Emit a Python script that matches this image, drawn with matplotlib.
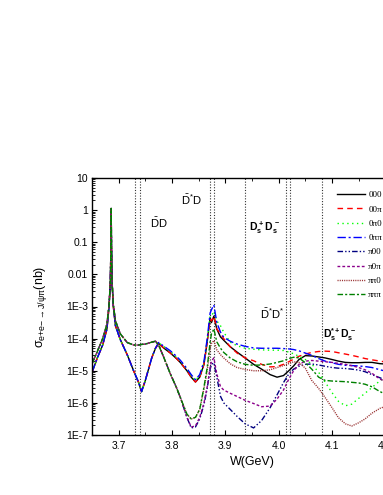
import numpy as np
import matplotlib
matplotlib.use("Agg")
import matplotlib.pyplot as plt
from matplotlib.ticker import MultipleLocator, LogLocator, NullFormatter

plt.rcParams['font.family'] = ['Liberation Sans', 'DejaVu Sans']
plt.rcParams['mathtext.fontset'] = 'custom'
plt.rcParams['mathtext.rm'] = 'Liberation Sans'
plt.rcParams['mathtext.it'] = 'Liberation Sans:italic'
plt.rcParams['mathtext.bf'] = 'Liberation Sans:bold'

# energy grid W (GeV), shared by all curves
w = [3.65, 3.66, 3.67, 3.678, 3.682, 3.6845, 3.6855, 3.686, 3.6865, 3.6875,
     3.69, 3.694, 3.703, 3.716, 3.728, 3.737, 3.743, 3.75, 3.762, 3.769,
     3.775, 3.785, 3.797, 3.809, 3.816, 3.828, 3.836, 3.844, 3.852, 3.86,
     3.866, 3.8715, 3.874, 3.8785, 3.884, 3.891, 3.897, 3.909, 3.922, 3.937,
     3.953, 3.968, 3.984, 3.997, 4.009, 4.019, 4.028, 4.038, 4.05, 4.062,
     4.075, 4.087, 4.1, 4.112, 4.125, 4.137, 4.15, 4.162, 4.175, 4.19,
     4.21, 4.25]

# log10(sigma / nb)
log_000 = [-5.05, -4.6, -4.2, -3.7, -3.0, -2.2, -1.1, 0.05, -1.1, -2.2,
           -3.0, -3.6, -4.03, -4.5, -5.0, -5.35, -5.65, -5.3, -4.6, -4.3,
           -4.15, -4.3, -4.45, -4.63, -4.75, -5.0, -5.2, -5.35, -5.2, -4.8,
           -4.1, -3.35, -3.5, -3.3, -3.7, -3.95, -4.05, -4.25, -4.42, -4.6,
           -4.8, -4.95, -5.12, -5.2, -5.15, -5.0, -4.85, -4.65, -4.53, -4.54,
           -4.57, -4.6, -4.65, -4.7, -4.74, -4.75, -4.75, -4.74, -4.74, -4.78,
           -4.8, -4.82]
log_00p = [-5.05, -4.6, -4.2, -3.7, -3.0, -2.2, -1.1, 0.05, -1.1, -2.2,
           -3.0, -3.6, -4.03, -4.5, -5.0, -5.35, -5.65, -5.3, -4.6, -4.3,
           -4.15, -4.3, -4.45, -4.63, -4.75, -5.0, -5.2, -5.35, -5.2, -4.8,
           -4.1, -3.4, -3.45, -3.3, -3.7, -3.85, -4.0, -4.25, -4.45, -4.6,
           -4.69, -4.8, -4.88, -4.87, -4.8, -4.72, -4.64, -4.55, -4.48, -4.43,
           -4.4, -4.39, -4.4, -4.44, -4.48, -4.52, -4.57, -4.62, -4.66, -4.7,
           -4.75, -4.8]
log_0p0 = [-5.05, -4.6, -4.2, -3.7, -3.0, -2.2, -1.1, 0.05, -1.1, -2.2,
           -3.0, -3.6, -4.03, -4.5, -5.0, -5.35, -5.65, -5.3, -4.6, -4.3,
           -4.13, -4.25, -4.4, -4.58, -4.7, -4.95, -5.15, -5.3, -5.15, -4.75,
           -4.05, -3.3, -3.3, -3.15, -3.45, -3.6, -3.8, -4.11, -4.22, -4.3,
           -4.33, -4.35, -4.36, -4.36, -4.37, -4.42, -4.47, -4.55, -4.65, -4.79,
           -5.05, -5.35, -5.68, -5.95, -6.09, -6.04, -5.86, -5.7, -5.52, -5.31,
           -5.1, -4.9]
log_0pp = [-5.05, -4.6, -4.2, -3.7, -3.0, -2.2, -1.1, 0.05, -1.1, -2.2,
           -3.0, -3.6, -4.03, -4.5, -5.0, -5.35, -5.65, -5.3, -4.6, -4.3,
           -4.12, -4.24, -4.38, -4.56, -4.68, -4.93, -5.12, -5.28, -5.12, -4.7,
           -4.0, -3.2, -3.1, -2.95, -3.5, -3.8, -3.96, -4.08, -4.17, -4.24,
           -4.29, -4.3, -4.3, -4.3, -4.31, -4.32, -4.34, -4.38, -4.45, -4.52,
           -4.62, -4.7, -4.75, -4.8, -4.83, -4.84, -4.85, -4.87, -4.9, -4.97,
           -5.05, -5.15]
log_p00 = [-4.78, -4.4, -4.0, -3.55, -2.95, -2.2, -1.1, 0.05, -1.1, -2.2,
           -2.95, -3.45, -3.85, -4.12, -4.2, -4.2, -4.18, -4.17, -4.11, -4.08,
           -4.2, -4.6, -5.1, -5.55, -5.85, -6.45, -6.78, -6.75, -6.5, -6.05,
           -5.55, -4.95, -4.8, -4.75, -5.2, -5.8, -6.0, -6.2, -6.42, -6.65,
           -6.78, -6.55, -6.15, -5.75, -5.37, -5.1, -4.95, -4.86, -4.8, -4.79,
           -4.82, -4.86, -4.9, -4.92, -4.93, -4.95, -4.98, -5.03, -5.12, -5.22,
           -5.35, -5.5]
log_p0p = [-4.78, -4.4, -4.0, -3.55, -2.95, -2.2, -1.1, 0.05, -1.1, -2.2,
           -2.95, -3.45, -3.85, -4.12, -4.2, -4.2, -4.18, -4.17, -4.11, -4.08,
           -4.2, -4.6, -5.1, -5.55, -5.85, -6.45, -6.75, -6.72, -6.45, -6.0,
           -5.5, -4.9, -4.7, -4.6, -5.1, -5.5, -5.6, -5.7, -5.8, -5.92,
           -6.02, -6.12, -6.1, -5.88, -5.6, -5.26, -5.0, -4.8, -4.7, -4.68,
           -4.7, -4.72, -4.74, -4.77, -4.8, -4.84, -4.9, -4.97, -5.08, -5.26,
           -5.4, -5.6]
log_pp0 = [-4.78, -4.4, -4.0, -3.55, -2.95, -2.2, -1.1, 0.05, -1.1, -2.2,
           -2.95, -3.45, -3.85, -4.12, -4.2, -4.2, -4.18, -4.17, -4.11, -4.08,
           -4.2, -4.6, -5.1, -5.55, -5.85, -6.35, -6.5, -6.45, -6.2, -5.55,
           -5.0, -4.3, -4.15, -4.06, -4.35, -4.5, -4.6, -4.78, -4.9, -4.96,
           -5.0, -5.0, -4.97, -4.9, -4.84, -4.78, -4.72, -4.74, -4.92, -5.3,
           -5.55, -5.83, -6.15, -6.46, -6.65, -6.72, -6.62, -6.5, -6.32, -6.17,
           -6.05, -5.9]
log_ppp = [-4.78, -4.4, -4.0, -3.55, -2.95, -2.2, -1.1, 0.05, -1.1, -2.2,
           -2.95, -3.45, -3.85, -4.12, -4.2, -4.2, -4.18, -4.17, -4.11, -4.08,
           -4.2, -4.6, -5.1, -5.55, -5.85, -6.35, -6.5, -6.45, -6.2, -5.5,
           -4.9, -4.1, -3.85, -3.7, -4.1, -4.3, -4.43, -4.6, -4.72, -4.8,
           -4.83, -4.82, -4.79, -4.74, -4.69, -4.62, -4.58, -4.6, -4.75, -4.95,
           -5.2, -5.3, -5.32, -5.33, -5.34, -5.36, -5.38, -5.42, -5.5, -5.65,
           -5.8, -6.0]

series_labels = ['000', '00π', '0π0', '0ππ', 'π00', 'π0π', 'ππ0', 'πππ']
series_logs = [log_000, log_00p, log_0p0, log_0pp, log_p00, log_p0p, log_pp0, log_ppp]
series_colors = ['#000000', '#ff0000', '#00ff00', '#0000ff',
                 '#000080', '#8b008b', '#993333', '#008000']
series_styles = ['-', (0, (4, 3)), (0, (1, 2.5)), (0, (6, 2, 1.5, 2)),
                 (0, (4, 1.5, 1, 1.5, 1, 1.5)), (0, (2, 1.5)), (0, (0.8, 0.8)),
                 (0, (4, 1.5, 1.5, 1.5))]

# open-charm thresholds (GeV)
thresholds = [3.7297, 3.7392, 3.8717, 3.8794, 3.9367, 4.0137, 4.0205, 4.0805]

channel_labels = [r'$\mathrm{\bar{D}D}$', r'$\mathrm{\bar{D}^{*}D}$',
                  r'$\mathbf{D_s^{\,+}D_s^{\,-}}$', r'$\mathrm{\bar{D}^{*}D^{*}}$',
                  r'$\mathbf{D_s^{*+}D_s^{\,-}}$']
channel_w = [3.775, 3.837, 3.973, 3.988, 4.115]
channel_sigma = [0.39, 2.05, 0.29, 6e-4, 1.3e-4]
channel_size = [8, 8, 7.5, 8, 7.5]

ytick_vals = [1e-7, 1e-6, 1e-5, 1e-4, 1e-3, 1e-2, 1e-1, 1, 10]
ytick_labels = ['1E-7', '1E-6', '1E-5', '1E-4', '1E-3', '0.01', '0.1', '1', '10']


def main():
    fig = plt.figure(figsize=(3.83, 4.95), dpi=100)
    ax = fig.add_axes([92 / 383, 60 / 495, 320 / 383, 257 / 495])

    for t in thresholds:
        ax.axvline(t, color='#333333', lw=0.8, ls=(0, (1, 1.5)), zorder=1)

    for lab, lg, col, st in zip(series_labels, series_logs, series_colors, series_styles):
        ax.plot(w, 10 ** np.array(lg), color=col, ls=st, lw=1.0, label=lab, zorder=2)

    ax.set_yscale('log')
    ax.set_xlim(3.65, 4.25)
    ax.set_ylim(1e-7, 10)

    ax.xaxis.set_major_locator(MultipleLocator(0.1))
    ax.xaxis.set_minor_locator(MultipleLocator(0.05))
    ax.xaxis.set_major_formatter(plt.FormatStrFormatter('%.1f'))
    ax.set_yticks(ytick_vals, ytick_labels)
    ax.yaxis.set_minor_locator(LogLocator(base=10, subs=np.arange(2, 10)))
    ax.yaxis.set_minor_formatter(NullFormatter())

    ax.tick_params(which='both', direction='in', top=True, right=True, labelsize=7.5)
    ax.tick_params(which='major', length=3.5, width=0.8)
    ax.tick_params(which='minor', length=2, width=0.6)
    ax.tick_params(axis='x', pad=4)
    ax.tick_params(axis='y', pad=3)
    for sp in ax.spines.values():
        sp.set_linewidth(1.0)

    for txt, x, y, fs in zip(channel_labels, channel_w, channel_sigma, channel_size):
        ax.text(x, y, txt, fontsize=fs, ha='center', va='center')

    ax.set_xlabel('W(GeV)', fontsize=9, labelpad=4)
    ax.set_ylabel(r'$\mathrm{\sigma_{e{+}e{-}\rightarrow J/\psi\pi}}$(nb)', fontsize=9, labelpad=12)

    ax.legend(loc='upper left', bbox_to_anchor=(337 / 383, 1 - 191 / 495),
              bbox_transform=fig.transFigure, frameon=False,
              prop={'family': 'Liberation Serif', 'size': 6.5},
              handlelength=3.1, handletextpad=0.35, labelspacing=0.66,
              borderpad=0, borderaxespad=0)

    fig.savefig('out.png', dpi=100)


if __name__ == "__main__":
    main()
